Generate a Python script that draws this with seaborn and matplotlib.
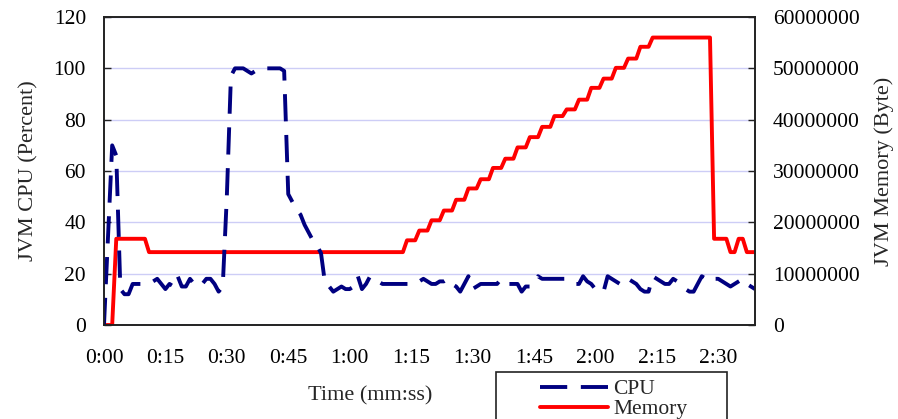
import numpy as np
import pandas as pd
import seaborn as sns
import matplotlib.pyplot as plt
from matplotlib.patches import Rectangle

# CPU load, one sample per second (percent)
cpu = [
    0, 35, 70, 66, 14, 12, 12, 16, 16, 16,
    16, 16, 17, 18, 16, 14, 16, 15, 19, 15,
    15, 18, 16, 15, 16, 18, 18, 16, 13, 15,
    50, 97, 100, 100, 100, 99, 98, 99, 100, 100,
    100, 100, 100, 100, 99, 51, 48, 45, 43, 39,
    36, 33, 31, 28, 16, 15, 13, 14, 15, 14,
    14, 15, 19, 14, 16, 19, 18, 17, 16, 16,
    16, 16, 16, 16, 16, 16, 16, 17, 18, 17,
    16, 16, 17, 17, 18, 16, 15, 13, 16, 19,
    14, 15, 16, 16, 16, 16, 16, 18, 17, 16,
    16, 16, 13, 15, 15, 16, 19, 18, 18, 18,
    18, 18, 18, 18, 17, 16, 16, 19, 17, 16,
    14, 14, 13, 19, 18, 17, 16, 16, 18, 17,
    16, 14, 13, 13, 19, 18, 17, 16, 16, 18,
    17, 16, 14, 13, 13, 16, 19, 18, 17, 18,
    18, 17, 16, 15, 16, 17, 18, 16, 15, 14,
]

# JVM memory in millions of bytes, same samples
memory_mb = [
    0, 0, 0, 16.8, 16.8, 16.8, 16.8, 16.8, 16.8, 16.8,
    16.8, 14.2, 14.2, 14.2, 14.2, 14.2, 14.2, 14.2, 14.2, 14.2,
    14.2, 14.2, 14.2, 14.2, 14.2, 14.2, 14.2, 14.2, 14.2, 14.2,
    14.2, 14.2, 14.2, 14.2, 14.2, 14.2, 14.2, 14.2, 14.2, 14.2,
    14.2, 14.2, 14.2, 14.2, 14.2, 14.2, 14.2, 14.2, 14.2, 14.2,
    14.2, 14.2, 14.2, 14.2, 14.2, 14.2, 14.2, 14.2, 14.2, 14.2,
    14.2, 14.2, 14.2, 14.2, 14.2, 14.2, 14.2, 14.2, 14.2, 14.2,
    14.2, 14.2, 14.2, 14.2, 16.5, 16.5, 16.5, 18.4, 18.4, 18.4,
    20.4, 20.4, 20.4, 22.3, 22.3, 22.3, 24.4, 24.4, 24.4, 26.6,
    26.6, 26.6, 28.4, 28.4, 28.4, 30.6, 30.6, 30.6, 32.4, 32.4,
    32.4, 34.6, 34.6, 34.6, 36.6, 36.6, 36.6, 38.6, 38.6, 38.6,
    40.7, 40.7, 40.7, 42.0, 42.0, 42.0, 43.9, 43.9, 43.9, 46.2,
    46.2, 46.2, 48.0, 48.0, 48.0, 50.1, 50.1, 50.1, 51.9, 51.9,
    51.9, 54.2, 54.2, 54.2, 56.0, 56.0, 56.0, 56.0, 56.0, 56.0,
    56.0, 56.0, 56.0, 56.0, 56.0, 56.0, 56.0, 56.0, 56.0, 16.8,
    16.8, 16.8, 16.8, 14.2, 14.2, 16.8, 16.8, 14.2, 14.2, 14.2,
]

time_ticks = [0, 15, 30, 45, 60, 75, 90, 105, 120, 135, 150]
time_labels = ["0:00", "0:15", "0:30", "0:45", "1:00", "1:15",
               "1:30", "1:45", "2:00", "2:15", "2:30"]
cpu_ticks = [0, 20, 40, 60, 80, 100, 120]
mem_ticks = [0, 10000000, 20000000, 30000000, 40000000, 50000000, 60000000]

df = pd.DataFrame({
    "t": np.arange(len(cpu)),
    "cpu": cpu,
    "mem": np.array(memory_mb) * 1e6,
})

sns.set_style("white")
plt.rcParams["font.family"] = ["Liberation Serif", "DejaVu Serif"]
plt.rcParams["font.size"] = 15.5

navy = "#000080"
red = "#ff0000"
grid_col = "#cdcdf6"
edge = "#222222"

fig = plt.figure(figsize=(8.98, 4.19), dpi=100, facecolor="white")
ax = fig.add_axes([0.1158, 0.2243, 0.7250, 0.7351])
ax2 = ax.twinx()

# memory behind, CPU in front
ax.set_zorder(2)
ax2.set_zorder(1)
ax.patch.set_visible(False)
ax2.patch.set_visible(True)
ax2.patch.set_facecolor("white")

sns.lineplot(data=df, x="t", y="mem", ax=ax2, color=red, linewidth=2.8,
             label="Memory", legend=False)
sns.lineplot(data=df, x="t", y="cpu", ax=ax, color=navy, linewidth=2.8,
             linestyle=(0, (7, 3.5)), label="CPU", legend=False)

ax.set_xlim(0, 159)
ax.set_ylim(0, 120)
ax2.set_ylim(0, 60000000)

ax.set_xticks(time_ticks)
ax.set_xticklabels(time_labels)
ax.set_yticks(cpu_ticks)
ax2.set_yticks(mem_ticks)
ax2.set_yticklabels([str(v) for v in mem_ticks])

ax.grid(False)
ax2.grid(True, color=grid_col, linewidth=1)
ax2.xaxis.grid(True, color=grid_col, linewidth=1)
ax2.set_xticks(time_ticks)

for a in (ax, ax2):
    for s in a.spines.values():
        s.set_color(edge)
        s.set_linewidth(1.2)

ax.tick_params(axis="x", direction="in", length=5, width=1, pad=17,
               colors=edge, labelcolor="black")
ax.tick_params(axis="y", direction="in", length=5, width=1, pad=13,
               colors=edge, labelcolor="black")
ax2.tick_params(axis="y", direction="in", length=5, width=1, pad=13,
                colors=edge, labelcolor="black")
ax2.tick_params(axis="x", length=0)

ax.set_xlabel("Time (mm:ss)", fontsize=16)
ax.xaxis.set_label_coords(0.409, -0.2)
ax.set_ylabel("JVM CPU (Percent)", fontsize=16)
ax.yaxis.set_label_coords(-0.1, 0.5)
ax2.set_ylabel("JVM Memory (Byte)", fontsize=16)
ax2.yaxis.set_label_coords(1.183, 0.5)

# legend box runs past the bottom edge of the figure
h1, l1 = ax.get_legend_handles_labels()
h2, l2 = ax2.get_legend_handles_labels()
leg = fig.legend(h1 + h2, l1 + l2, loc="upper left",
                 bbox_to_anchor=(540 / 898, (419 - 379) / 419),
                 frameon=False, borderpad=0, borderaxespad=0,
                 handlelength=3.15, handletextpad=0.25, labelspacing=0.0,
                 fontsize=15.5)
fig.patches.append(Rectangle((496 / 898, -0.05), 231 / 898,
                             (419 - 372) / 419 + 0.05,
                             transform=fig.transFigure, fill=False,
                             edgecolor=edge, linewidth=1.2, clip_on=False))

fig.savefig("out.png", dpi=100, facecolor="white")
